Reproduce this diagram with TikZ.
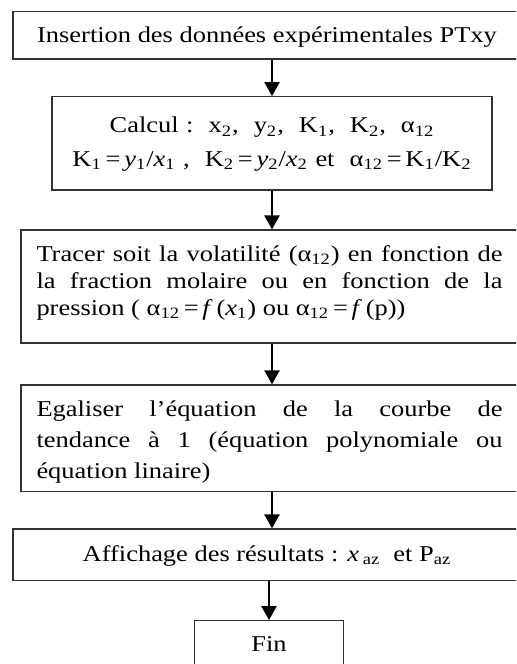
\documentclass[tikz,border=0pt]{standalone}
\usepackage{fontspec}
\setmainfont[FakeStretch=1.17]{Liberation Serif}
\usepackage{tikz}
\usetikzlibrary{arrows.meta, positioning}
\newcommand{\ind}[1]{\textsubscript{#1}}

\begin{document}
\begin{tikzpicture}[x=0.5pt, y=-0.5pt,
        bloc/.style={rectangle, draw=black!80, line width=0.6pt, inner sep=0pt,
                     align=center, font=\fontsize{11.3}{13.5}\selectfont},
        fleche/.style={-{Triangle[width=7.5pt, length=7pt]}, line width=1.2pt},
      ]
      \useasboundingbox (0,0) rectangle (516,664);
      \clip (0,0) rectangle (516,664);

      \node[bloc, minimum width=254pt, text height=15.5pt, text depth=8.15pt] (insertion) at (267,35.3)
        {Insertion des données expérimentales PTxy};
      \node[bloc, minimum width=220pt, text width=215pt, text height=18.15pt, text depth=28.5pt,
            font=\fontsize{11.3}{16.8}\selectfont] (calcul) at (272,143.3)
        {Calcul :\ \ x\ind{2},\ \ y\ind{2},\ \ K\ind{1},\ \ K\ind{2},\ \ α\ind{12}\\
         K\ind{1}\,=\,\textit{y}\ind{1}/\textit{x}\ind{1} ,\ \ K\ind{2}\,=\,\textit{y}\ind{2}/\textit{x}\ind{2} et\ \ α\ind{12}\,=\,K\ind{1}/K\ind{2}};
      \node[bloc, minimum width=248.5pt, text width=233pt, align=justify, text height=15.85pt, text depth=40.65pt,
            font=\fontsize{11.3}{13.5}\selectfont] (trace) at (269.5,286.5)
        {Tracer soit la volatilité (α\ind{12}) en fonction de\linebreak
         la fraction molaire ou en fonction de la\linebreak
         pression ( α\ind{12}\,=\,\textit{f}\,(\textit{x}\ind{1}) ou α\ind{12}\,=\,\textit{f}\,(p))};
      \node[bloc, minimum width=248.5pt, text width=233pt, align=justify, text height=15.85pt, text depth=37.5pt,
            font=\fontsize{11.3}{15.5}\selectfont] (egal) at (269.5,438.3)
        {Egaliser l’équation de la courbe de\linebreak
         tendance à 1 (équation polynomiale ou\linebreak
         équation linaire)};
      \node[bloc, minimum width=254pt, text height=16pt, text depth=9.85pt] (affich) at (267,554.85)
        {Affichage des résultats : \textit{x}\,\ind{az}\ \ et P\ind{az}};
      \node[bloc, minimum width=74.5pt, text height=15.5pt, text depth=10.15pt] (fin) at (269,646.35) {Fin};

      \draw[fleche] (insertion.south -| calcul) -- (calcul);
      \draw[fleche] (calcul) -- (calcul |- trace.north);
      \draw[fleche] (trace.south -| calcul) -- (calcul |- egal.north);
      \draw[fleche] (egal.south -| calcul) -- (calcul |- affich.north);
      \draw[fleche] (affich.south -| fin) -- (fin);
    \end{tikzpicture}
\end{document}
